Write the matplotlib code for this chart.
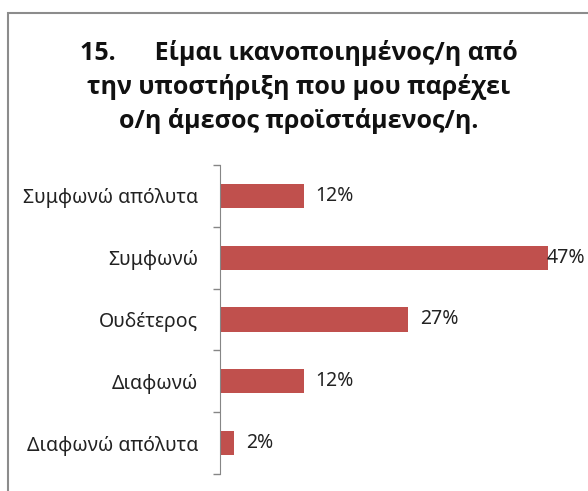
import numpy as np
import matplotlib
matplotlib.use("Agg")
import matplotlib.pyplot as plt
from matplotlib.patches import Rectangle

plt.rcParams['font.family'] = ['Noto Sans', 'DejaVu Sans']

categories = ["Συμφωνώ απόλυτα", "Συμφωνώ", "Ουδέτερος", "Διαφωνώ", "Διαφωνώ απόλυτα"]
values = [12, 47, 27, 12, 2]
value_labels = ["12%", "47%", "27%", "12%", "2%"]
title = "15.      Είμαι ικανοποιημένος/η από\nτην υποστήριξη που μου παρέχει\nο/η άμεσος προϊστάμενος/η."

W, H = 588, 491
fig = plt.figure(figsize=(W / 100, H / 100), dpi=100)

# chart frame (left + top visible, rest cropped in the original)
fig.patches.append(Rectangle((8 / W, -0.1), 1.2, 1 - 13 / H + 0.1, transform=fig.transFigure,
                             fill=False, edgecolor="#8c8c8c", linewidth=1.5))

ax = fig.add_axes([220 / W, 1 - 474 / H, (569 - 220) / W, (474 - 165) / H])
y = np.arange(len(categories))
ax.barh(y, values, height=0.39, color="#C0504D")

ax.set_xlim(0, 50)
ax.set_ylim(len(categories) - 0.5, -0.5)

for yi, v, lab in zip(y, values, value_labels):
    dx = 8.5 if v < 45 else -1
    ax.annotate(lab, (v, yi), xytext=(dx, 0), textcoords="offset points",
                va="center", ha="left", fontsize=14, color="#222222")

ax.set_yticks(y)
ax.set_yticklabels(categories, fontsize=14, color="#222222")
ax.set_yticks(np.arange(-0.5, len(categories)), minor=True)
ax.tick_params(axis="y", which="major", length=0, pad=15.5)
ax.tick_params(axis="y", which="minor", length=5, color="#868686", width=1)
ax.set_xticks([])
for s in ["top", "right", "bottom"]:
    ax.spines[s].set_visible(False)
ax.spines["left"].set_color("#868686")

fig.text(0.508, 1 - 87 / H, title, ha="center", va="center", fontsize=18,
         fontweight="bold", family=["Open Sans", "Noto Sans", "DejaVu Sans"],
         linespacing=1.38, color="#111111")

fig.savefig("out.png", dpi=100)
